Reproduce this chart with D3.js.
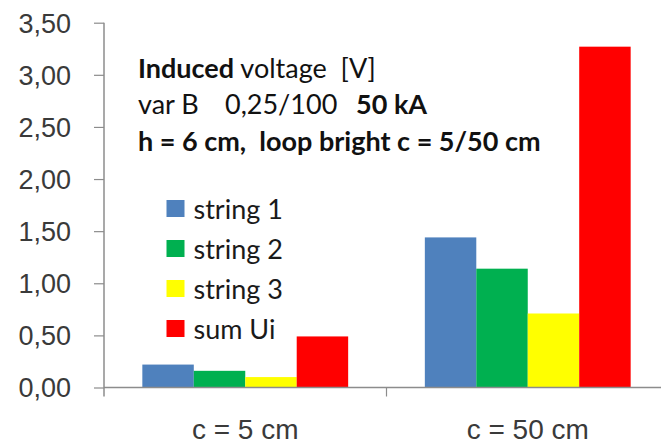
<!DOCTYPE html>
<html>
<head>
<meta charset="utf-8">
<script src="https://cdn.jsdelivr.net/npm/d3@7"></script>
<style>
      body { margin: 0; background: #fff; }
      svg { display: block; font-family: Lato, "Open Sans", sans-serif; }
      text { white-space: pre; }
</style>
</head>
<body>
<svg id="chart"></svg>
<script>
const categories = ['c = 5 cm', 'c = 50 cm'];
const seriesNames = ['string 1', 'string 2', 'string 3', 'sum Ui'];
const string1 = [0.22, 1.44];
const string2 = [0.16, 1.14];
const string3 = [0.10, 0.71];
const sumUi = [0.49, 3.27];
const yTicks = [0, 0.5, 1, 1.5, 2, 2.5, 3, 3.5];
const seriesColors = ['#4F81BD', '#00B050', '#FFFF00', '#FF0000'];

class GroupedBarChart{

      constructor(config){
            this.config = {
                  parent: config.parent,
                  width: config.width || 661,
                  height: config.height || 446,
                  margin: config.margin || {top:22.7, right:-8, bottom:58.5, left:104}
            }
            this.init();
      }

      init(){
            let self = this;
            const m = self.config.margin;

            self.svg = d3.select( self.config.parent )
                  .attr('width', self.config.width)
                  .attr('height', self.config.height);

            self.chart = self.svg.append('g')
                  .attr('transform', `translate(${m.left}, ${m.top})`);

            self.inner_width = self.config.width - m.left - m.right;
            self.inner_height = self.config.height - m.top - m.bottom;

            self.yscale = d3.scaleLinear()
                  .domain([0, 3.5])
                  .range([self.inner_height, 0]);

            self.xscale = d3.scaleBand()
                  .domain(categories)
                  .range([0, self.inner_width])
                  .padding(0);

            self.xsub = d3.scaleBand()
                  .domain(seriesNames)
                  .range([0, self.xscale.bandwidth()])
                  .paddingInner(0)
                  .paddingOuter(0.745);

            self.color = d3.scaleOrdinal()
                  .domain(seriesNames)
                  .range(seriesColors);
      }

      render(){
            let self = this;
            const values = [string1, string2, string3, sumUi];
            const rows = [];
            seriesNames.forEach((s, i) => {
                  categories.forEach((c, j) => rows.push({s: s, c: c, v: values[i][j]}));
            });

            // y axis
            const yaxis = d3.axisLeft(self.yscale)
                  .tickValues(yTicks)
                  .tickFormat(d => d.toFixed(2).replace('.', ','))
                  .tickSize(10)
                  .tickPadding(23)
                  .tickSizeOuter(0);

            const yg = self.chart.append('g').call(yaxis);
            yg.select('.domain').attr('stroke', '#8c8c8c').attr('stroke-width', 1.5)
                  .attr('d', `M0,0V${self.inner_height + 9}`);
            yg.selectAll('.tick line').attr('stroke', '#8c8c8c').attr('stroke-width', 1.2);
            yg.selectAll('.tick text')
                  .attr('fill', '#3a3a3a')
                  .style('font-size', '27px')
                  .attr('dy', '0.35em');

            // bars
            self.chart.append('g')
                  .selectAll('rect')
                  .data(rows)
                  .join('rect')
                  .attr('x', d => self.xscale(d.c) + self.xsub(d.s))
                  .attr('y', d => self.yscale(d.v))
                  .attr('width', self.xsub.bandwidth())
                  .attr('height', d => self.inner_height - self.yscale(d.v))
                  .attr('fill', d => self.color(d.s));

            // x axis baseline and boundary ticks
            const xg = self.chart.append('g')
                  .attr('transform', `translate(0, ${self.inner_height})`);
            xg.append('line')
                  .attr('x1', 0).attr('x2', self.config.width - self.config.margin.left)
                  .attr('stroke', '#8c8c8c').attr('stroke-width', 1.5);
            xg.selectAll('line.bt')
                  .data(categories.slice(1))
                  .join('line')
                  .attr('class', 'bt')
                  .attr('x1', d => self.xscale(d)).attr('x2', d => self.xscale(d))
                  .attr('y1', 0).attr('y2', 9)
                  .attr('stroke', '#8c8c8c').attr('stroke-width', 1.2);

            const xaxis = d3.axisBottom(self.xscale).tickSize(0).tickPadding(0);
            const xl = self.chart.append('g')
                  .attr('transform', `translate(0, ${self.inner_height})`)
                  .call(xaxis);
            xl.select('.domain').remove();
            xl.selectAll('.tick text')
                  .attr('y', 51)
                  .attr('dy', 0)
                  .attr('fill', '#3a3a3a')
                  .style('font-size', '28px');

            // legend
            const legend = self.svg.append('g');
            const item = legend.selectAll('g')
                  .data(seriesNames)
                  .join('g')
                  .attr('transform', (d, i) => `translate(166.5, ${200 + i * 40})`);
            item.append('rect')
                  .attr('width', 18).attr('height', 17)
                  .attr('fill', d => self.color(d));
            item.append('text')
                  .attr('x', 27).attr('y', 19)
                  .attr('fill', '#1a1a1a')
                  .style('font-size', '27px')
                  .text(d => d);

            // title block
            const title = self.svg.append('text')
                  .attr('fill', '#111')
                  .style('font-size', '27px');
            const l1 = title.append('tspan').attr('x', 138).attr('y', 78);
            l1.append('tspan').style('font-weight', 'bold').text('Induced');
            l1.append('tspan').text(' voltage  [V]');
            title.append('tspan').attr('x', 138).attr('y', 114).text('var B');
            title.append('tspan').attr('x', 225).attr('y', 114).text('0,25/100');
            title.append('tspan').attr('x', 356).attr('y', 114).style('font-weight', 'bold').text('50 kA');
            title.append('tspan').attr('x', 138).attr('y', 151).style('font-weight', 'bold')
                  .text('h = 6 cm,  loop bright c = 5/50 cm');
      }
}

const chart = new GroupedBarChart({parent: '#chart'});
chart.render();
</script>
</body>
</html>
